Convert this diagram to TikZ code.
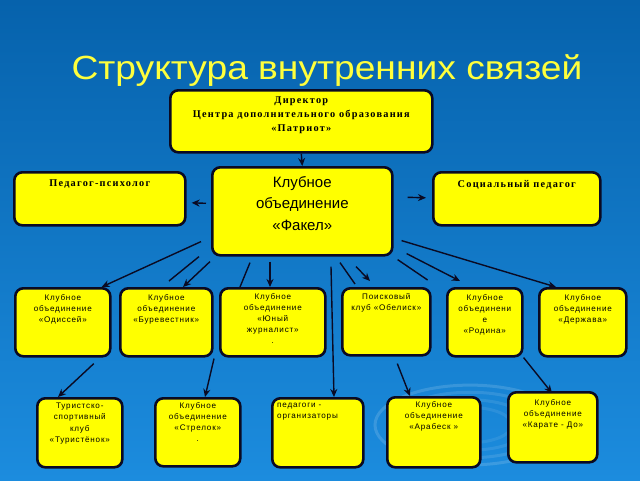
\documentclass[tikz,border=0pt]{standalone}
\usepackage{fontspec}
\setmainfont{Liberation Serif}
\newfontfamily\arialf{Liberation Sans}
\newfontfamily\titlef[FakeStretch=1.11]{Liberation Sans}
\usetikzlibrary{arrows.meta,shadings}
\definecolor{bgtop}{RGB}{6,98,172}
\definecolor{bgbot}{RGB}{28,140,222}
\definecolor{boxyel}{RGB}{255,255,0}
\definecolor{titleyel}{RGB}{255,255,60}
\definecolor{linec}{RGB}{10,10,35}
\tikzset{
  box/.style={draw=linec, line width=2.6pt, fill=boxyel, rounded corners=8pt, anchor=north west, inner sep=0pt},
  lbl/.style={anchor=north, align=center, inner sep=0pt, text=black},
  small/.style={font=\arialf\addfontfeatures{LetterSpace=10}\fontsize{8.1}{11.2}\selectfont},
  serifb/.style={font=\bfseries\addfontfeatures{LetterSpace=12}\fontsize{10.3}{14}\selectfont},
  arr/.style={draw=linec, line width=1.4pt, -{Stealth[length=8pt,width=7pt]}},
  ln/.style={draw=linec, line width=1.4pt}
}
\begin{document}
\begin{tikzpicture}[x=1pt,y=-1pt]
\shade[top color=bgtop, bottom color=bgbot] (0,0) rectangle (640,480);
\useasboundingbox (0,0) rectangle (640,480);
% ripples
\foreach \r/\o in {95/0.14,78/0.11,60/0.09,42/0.08}{
  \draw[white, opacity=\o, line width=3pt] (470,425) ellipse ({\r pt} and {0.42*\r pt});
}
\node[anchor=base, text=titleyel, font=\titlef\fontsize{33.5}{36}\selectfont] (title) at (327,79) {Структура внутренних связей};
% top boxes
\node[box, minimum width=262, minimum height=62, label={[lbl, serifb, yshift=-8pt]north:{Директор\\Центра дополнительного образования\\«Патриот»}}] (director) at (169,89) {};
\node[box, minimum width=171, minimum height=53, label={[lbl, serifb, yshift=-9pt]north:{Педагог-психолог}}] (psych) at (13,171) {};
\node[box, minimum width=180, minimum height=88, label={[lbl, font=\arialf\fontsize{15}{21.5}\selectfont, yshift=-10pt]north:{Клубное\\объединение\\«Факел»}}] (fakel) at (211,166) {};
\node[box, minimum width=167, minimum height=53, label={[lbl, serifb, yshift=-9pt]north:{Социальный педагог}}] (social) at (432,171) {};
% row 2
\node[box, minimum width=95, minimum height=68, label={[lbl, small, yshift=-7pt]north:{Клубное\\объединение\\«Одиссей»}}] (odissey) at (14,287) {};
\node[box, minimum width=92, minimum height=68, label={[lbl, small, yshift=-7pt]north:{Клубное\\объединение\\«Буревестник»}}] (burev) at (119,287) {};
\node[box, minimum width=105, minimum height=68, label={[lbl, small, yshift=-6pt]north:{Клубное\\объединение\\«Юный\\журналист»\\.}}] (jur) at (219,287) {};
\node[box, minimum width=88, minimum height=67, label={[lbl, small, yshift=-6pt]north:{Поисковый\\клуб «Обелиск»}}] (obelisk) at (341,287) {};
\node[box, minimum width=75, minimum height=68, label={[lbl, small, yshift=-7pt]north:{Клубное\\объединени\\е\\«Родина»}}] (rodina) at (446,287) {};
\node[box, minimum width=87, minimum height=68, label={[lbl, small, yshift=-7pt]north:{Клубное\\объединение\\«Держава»}}] (derzhava) at (538,287) {};
% row 3
\node[box, minimum width=85, minimum height=69, label={[lbl, small, yshift=-6pt]north:{Туристско-\\спортивный\\клуб\\«Туристёнок»}}] (turist) at (36,397) {};
\node[box, minimum width=85, minimum height=68, label={[lbl, small, yshift=-5pt]north:{Клубное\\объединение\\«Стрелок»\\.}}] (strelok) at (154,397) {};
\node[box, minimum width=91, minimum height=69, label={[lbl, small, align=left, anchor=north west, xshift=6pt, yshift=-6pt]north west:{педагоги -\\организаторы}}] (ped) at (271,397) {};
\node[box, minimum width=93, minimum height=70, label={[lbl, small, yshift=-5pt]north:{Клубное\\объединение\\«Арабеск »}}] (arabesk) at (386,396) {};
\node[box, minimum width=89, minimum height=70, label={[lbl, small, yshift=-8pt]north:{Клубное\\объединение\\«Карате - До»}}] (karate) at (507,391) {};
% connectors
\draw[arr] (director.south) -- (fakel.north);
\draw[arr] ([xshift=-5pt,yshift=8pt]fakel.west) -- ([xshift=5pt,yshift=-4pt]psych.east);
\draw[arr] ([xshift=14pt,yshift=14pt]fakel.east) -- ([xshift=-6pt,yshift=1pt]social.west);
\draw[arr] ([xshift=-10pt,yshift=15pt]fakel.south west) -- ([xshift=-10pt]odissey.north east);
\draw[ln] ([xshift=-12pt]fakel.south west) -- ([xshift=50pt,yshift=6pt]burev.north west);
\draw[arr] ([xshift=-1pt,yshift=-5pt]fakel.south west) -- ([xshift=64pt]burev.north west);
\draw[ln] ([xshift=39pt,yshift=-6pt]fakel.south west) -- ([xshift=21pt]jur.north west);
\draw[arr] ([xshift=59pt,yshift=-5pt]fakel.south west) -- ([xshift=51pt]jur.north west);
\draw[arr] ([xshift=120pt,yshift=-10pt]fakel.south west) -- ([xshift=63pt]ped.north west);
\draw[ln] ([xshift=129pt,yshift=-6pt]fakel.south west) -- ([xshift=14pt,yshift=3pt]obelisk.north west);
\draw[arr] ([xshift=145pt,yshift=-10pt]fakel.south west) -- ([xshift=29pt,yshift=6pt]obelisk.north west);
\draw[ln] ([xshift=4pt,yshift=-3pt]fakel.south east) -- ([xshift=-4pt,yshift=7pt]obelisk.north east);
\draw[arr] ([xshift=13pt,yshift=3pt]fakel.south east) -- ([xshift=14pt,yshift=6pt]rodina.north west);
\draw[arr] ([xshift=8pt,yshift=16pt]fakel.south east) -- ([xshift=18pt]derzhava.north west);
\draw[arr] ([xshift=31pt,yshift=-6pt]odissey.south) -- ([xshift=22pt]turist.north west);
\draw[arr] ([xshift=-5pt,yshift=-1pt]jur.south west) -- ([xshift=51pt]strelok.north west);
\draw[arr] ([xshift=11pt,yshift=-7pt]obelisk.south) -- ([xshift=24pt]arabesk.north west);
\draw[arr] ([xshift=0pt,yshift=0pt]rodina.south east) -- ([xshift=45pt,yshift=-2pt]karate.north west);
\end{tikzpicture}
\end{document}
